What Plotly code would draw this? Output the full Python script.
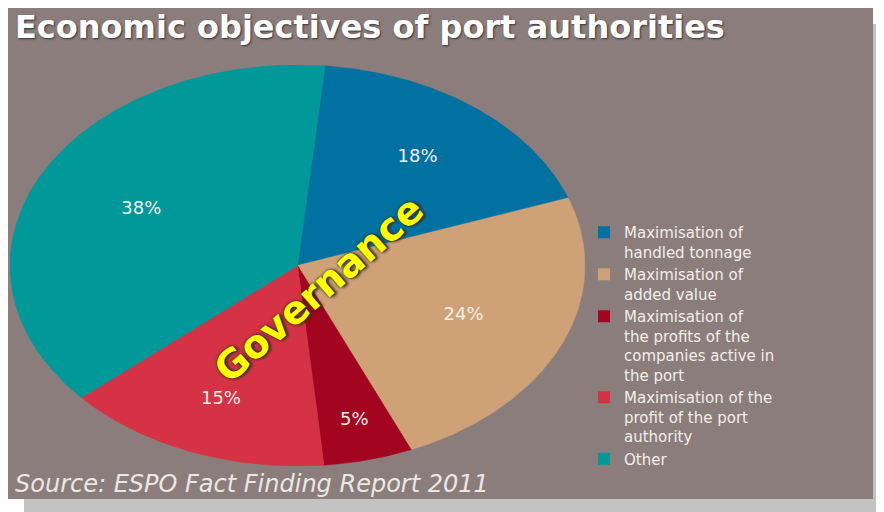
import math
import plotly.graph_objects as go

# ---- data ----
categories = [
    "Maximisation of<br>handled tonnage",
    "Maximisation of<br>added value",
    "Maximisation of<br>the profits of the<br>companies active in<br>the port",
    "Maximisation of the<br>profit of the port<br>authority",
    "Other",
]
values = [18, 24, 5, 15, 38]
labels = ["18%", "24%", "5%", "15%", "38%"]
colors = ["#0071a1", "#cea276", "#a30520", "#d53345", "#009899"]

# ---- layout constants ----
start_deg = 5.5                               # first slice boundary, clockwise from north
label_radius = [0.68, 0.63, 0.80, 0.72, 0.61]  # label distance from centre (fraction of radius)

PANEL = "#8b7d7c"
SHADOW = "#c3c3c3"
TXT = "#f3eee9"

# the page body has an 8px margin; positions below are page pixels minus that
OFF = 8
W, H = 884 - OFF, 512 - OFF


def px(xp):
    return (xp - OFF) / W


def py(yp):
    return 1 - (yp - OFF) / H


fig = go.Figure()

total = float(sum(values))
cum = 0.0
lx, ly = [], []
for v, c, r in zip(values, colors, label_radius):
    a0 = start_deg + 360.0 * cum / total
    a1 = start_deg + 360.0 * (cum + v) / total
    n = max(8, int((a1 - a0) * 2))
    xs, ys = [0.0], [0.0]
    for i in range(n + 1):
        t = math.radians(a0 + (a1 - a0) * i / n)
        xs.append(math.sin(t))
        ys.append(math.cos(t))
    xs.append(0.0)
    ys.append(0.0)
    fig.add_trace(go.Scatter(
        x=xs, y=ys, mode="lines", fill="toself", fillcolor=c,
        line=dict(width=0.5, color=c), showlegend=False, hoverinfo="skip",
    ))
    mid = math.radians((a0 + a1) / 2)
    lx.append(r * math.sin(mid))
    ly.append(r * math.cos(mid))
    cum += v

fig.add_trace(go.Scatter(
    x=lx, y=ly, mode="text", text=labels, showlegend=False, hoverinfo="skip",
    textfont=dict(family="DejaVu Sans", size=18, color=TXT),
))

# legend entries
for c, name in zip(colors, categories):
    fig.add_trace(go.Scatter(
        x=[None], y=[None], mode="markers", name=name,
        marker=dict(symbol="square", size=12, color=c),
    ))

fig.update_layout(
    width=W, height=H,
    margin=dict(l=0, r=0, t=0, b=0),
    paper_bgcolor="white",
    plot_bgcolor="rgba(0,0,0,0)",
    xaxis=dict(domain=[px(10), px(585)], range=[-1, 1], visible=False, fixedrange=True),
    yaxis=dict(domain=[py(466), py(65)], range=[-1, 1], visible=False, fixedrange=True),
    showlegend=True,
    legend=dict(
        x=px(584), y=py(216), xanchor="left", yanchor="top",
        bgcolor="rgba(0,0,0,0)", valign="top", tracegroupgap=0,
        font=dict(family="DejaVu Sans", size=15, color=TXT),
    ),
    shapes=[
        dict(type="rect", xref="paper", yref="paper", layer="below",
             x0=px(24), x1=1.0, y0=0.0, y1=py(24),
             fillcolor=SHADOW, line=dict(width=0)),
        dict(type="rect", xref="paper", yref="paper", layer="below",
             x0=px(8), x1=px(873), y0=py(499), y1=py(8),
             fillcolor=PANEL, line=dict(width=0)),
    ],
    annotations=[
        dict(text="<b>Economic objectives of port authorities</b>",
             xref="paper", yref="paper", x=px(13), y=py(27),
             xanchor="left", yanchor="middle", showarrow=False,
             font=dict(family="DejaVu Sans", size=32, color="white",
                       shadow="1px 1px 2px #333")),
        dict(text="<i>Source: ESPO Fact Finding Report 2011</i>",
             xref="paper", yref="paper", x=px(13), y=py(484),
             xanchor="left", yanchor="middle", showarrow=False,
             font=dict(family="DejaVu Sans", size=24, color="#ece7e2")),
        dict(text="<b>Governance</b>",
             xref="paper", yref="paper", x=px(318), y=py(289),
             xanchor="center", yanchor="middle", showarrow=False,
             textangle=-41,
             font=dict(family="DejaVu Sans", size=39, color="#ffff00",
                       shadow="0px 0px 3px #222, 2px 2px 3px #333")),
    ],
)

fig.write_html("out.html")
